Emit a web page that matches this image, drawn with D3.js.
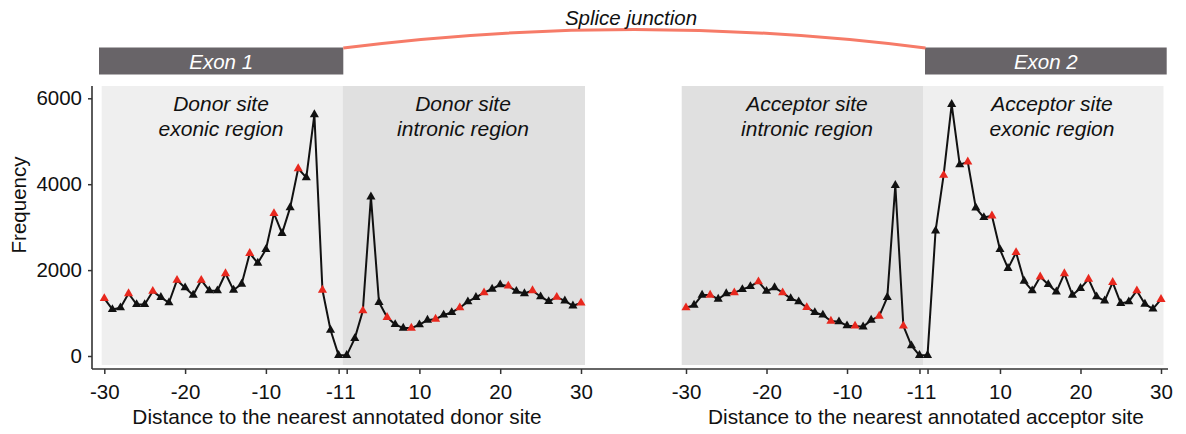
<!DOCTYPE html>
<html>
<head>
<meta charset="utf-8">
<script src="https://cdn.jsdelivr.net/npm/d3@7"></script>
<style>
  body { margin: 0; background: #fff; }
  text { font-family: "Liberation Sans", Arial, Helvetica, sans-serif; }
</style>
</head>
<body>
<div id="chart"></div>
<script>
// positions relative to the splice site, there is no 0
const positions = d3.range(-30, 0).concat(d3.range(1, 31));
const xTicks = [-30, -20, -10, -1, 1, 10, 20, 30];
const yTicks = [0, 2000, 4000, 6000];

// frequencies read per position
const donorExonic = [1340, 1085, 1125, 1455, 1200, 1200, 1510, 1365, 1240, 1765, 1590, 1420, 1765, 1520, 1520,
    1920, 1535, 1675, 2390, 2165, 2480, 3320, 2855, 3455, 4365, 4155, 5620, 1535, 605, 15];
const donorIntronic = [15, 410, 1055, 3705, 1250, 900, 735, 650, 650, 730, 835, 860, 955, 1015, 1125,
    1265, 1365, 1475, 1560, 1660, 1630, 1510, 1455, 1525, 1380, 1270, 1370, 1285, 1170, 1235];
const acceptorIntronic = [1125, 1185, 1420, 1420, 1325, 1455, 1475, 1550, 1620, 1730, 1510, 1595, 1475, 1340, 1265,
    1130, 1015, 955, 815, 800, 705, 700, 680, 835, 930, 1365, 3975, 700, 240, 15];
const acceptorExonic = [15, 2915, 4210, 5860, 4455, 4520, 3450, 3225, 3265, 2480, 2040, 2410, 1745, 1520, 1845,
    1665, 1495, 1920, 1420, 1575, 1790, 1380, 1285, 1715, 1225, 1265, 1520, 1210, 1095, 1320];

const regionLabels = [
    ["Donor site", "exonic region"],
    ["Donor site", "intronic region"],
    ["Acceptor site", "intronic region"],
    ["Acceptor site", "exonic region"]
];
const exonLabels = ["Exon 1", "Exon 2"];

const width = 1186;
const height = 434;
const light = "#efefef";
const dark = "#e0e0e0";

const svg = d3.select("#chart").append("svg").attr("width", width).attr("height", height);

const y = d3.scaleLinear().domain([0, 6000]).range([356, 98.3]);

const panels = [
    {values: donorExonic.concat(donorIntronic), range: [104.3, 581], left: 101.7, right: 585,
        fills: [light, dark], labels: [regionLabels[0], regionLabels[1]], labelX: [221, 463],
        titleX: 337, title: "Distance to the nearest annotated donor site"},
    {values: acceptorIntronic.concat(acceptorExonic), range: [686, 1161], left: 681.7, right: 1163.5,
        fills: [dark, light], labels: [regionLabels[2], regionLabels[3]], labelX: [807, 1052],
        titleX: 926, title: "Distance to the nearest annotated acceptor site"}
];

const bgTop = 86, bgBottom = 365, axisY = 369;

panels.forEach(p => {
    const x = d3.scalePoint().domain(positions).range(p.range);
    const mid = (x(-1) + x(1)) / 2;

    // shaded regions
    svg.append("rect").attr("x", p.left).attr("y", bgTop)
        .attr("width", mid - p.left).attr("height", bgBottom - bgTop).attr("fill", p.fills[0]);
    svg.append("rect").attr("x", mid).attr("y", bgTop)
        .attr("width", p.right - mid).attr("height", bgBottom - bgTop).attr("fill", p.fills[1]);

    p.labels.forEach((lines, i) => {
        const t = svg.append("text").attr("text-anchor", "middle")
            .attr("font-style", "italic").attr("font-size", 21).attr("fill", "#111");
        lines.forEach((s, j) => {
            t.append("tspan").attr("x", p.labelX[i]).attr("y", 111 + j * 24.5).text(s);
        });
    });

    const line = d3.line()
        .x((d, i) => x(positions[i]))
        .y(d => y(d));

    svg.append("path").datum(p.values)
        .attr("d", line).attr("fill", "none")
        .attr("stroke", "#111").attr("stroke-width", 2).attr("stroke-linejoin", "round");

    // red triangles every third position (codon frame)
    svg.append("g").selectAll("path")
        .data(p.values)
        .join("path")
        .attr("d", d3.symbol(d3.symbolTriangle, 36))
        .attr("transform", (d, i) => `translate(${x(positions[i])},${y(d)})`)
        .attr("fill", (d, i) => positions[i] % 3 === 0 ? "#e8281e" : "#111");

    const ax = svg.append("g").attr("transform", `translate(0,${axisY})`)
        .call(d3.axisBottom(x).tickValues(xTicks).tickSize(5).tickPadding(10));
    ax.select(".domain").remove();
    ax.selectAll(".tick line").attr("stroke", "#333").attr("stroke-width", 1.5);
    ax.selectAll(".tick text").attr("font-size", 20.5).attr("fill", "#111")
        .style("font-family", '"Liberation Sans", Arial, sans-serif');
    // -1 and 1 sit next to each other, so butt them together instead of overlapping
    const mid1 = mid - x(-1);
    ax.selectAll(".tick text").filter(d => d === -1)
        .attr("text-anchor", "end").attr("x", mid1 + 1);
    ax.selectAll(".tick text").filter(d => d === 1)
        .attr("text-anchor", "start").attr("x", -mid1 + 1);

    svg.append("text").attr("x", p.titleX).attr("y", 424)
        .attr("text-anchor", "middle").attr("font-size", 20.8).attr("fill", "#111")
        .text(p.title);
});

// axis lines
svg.append("line").attr("x1", 92).attr("x2", 1168).attr("y1", axisY).attr("y2", axisY)
    .attr("stroke", "#333").attr("stroke-width", 1.6);
svg.append("line").attr("x1", 92).attr("x2", 92).attr("y1", bgTop).attr("y2", axisY)
    .attr("stroke", "#333").attr("stroke-width", 1.6);

const yAxis = svg.append("g").attr("transform", "translate(92,0)")
    .call(d3.axisLeft(y).tickValues(yTicks).tickSize(4).tickPadding(6).tickFormat(d3.format("d")));
yAxis.select(".domain").remove();
yAxis.selectAll(".tick line").attr("stroke", "#333").attr("stroke-width", 1.5);
yAxis.selectAll(".tick text").attr("font-size", 20.5).attr("fill", "#111")
    .style("font-family", '"Liberation Sans", Arial, sans-serif');

svg.append("text").attr("transform", "translate(26,205) rotate(-90)")
    .attr("text-anchor", "middle").attr("font-size", 20.5).attr("fill", "#111")
    .text("Frequency");

// exon boxes and the splice junction arc
const exonBoxes = [[99, 343.3], [925, 1166.7]];
exonBoxes.forEach((b, i) => {
    svg.append("rect").attr("x", b[0]).attr("y", 47.5).attr("width", b[1] - b[0]).attr("height", 27)
        .attr("fill", "#686468");
    svg.append("text").attr("x", (b[0] + b[1]) / 2).attr("y", 68.5)
        .attr("text-anchor", "middle").attr("font-style", "italic").attr("font-size", 20.5)
        .attr("fill", "#fff").text(exonLabels[i]);
});

const arc = d3.path();
arc.moveTo(343.3, 48);
arc.quadraticCurveTo(634.5, 11, 925.5, 48);
svg.append("path").attr("d", arc.toString()).attr("fill", "none")
    .attr("stroke", "#f67b68").attr("stroke-width", 3);

svg.append("text").attr("x", 631).attr("y", 25).attr("text-anchor", "middle")
    .attr("font-style", "italic").attr("font-size", 20.5).attr("fill", "#111")
    .text("Splice junction");
</script>
</body>
</html>
